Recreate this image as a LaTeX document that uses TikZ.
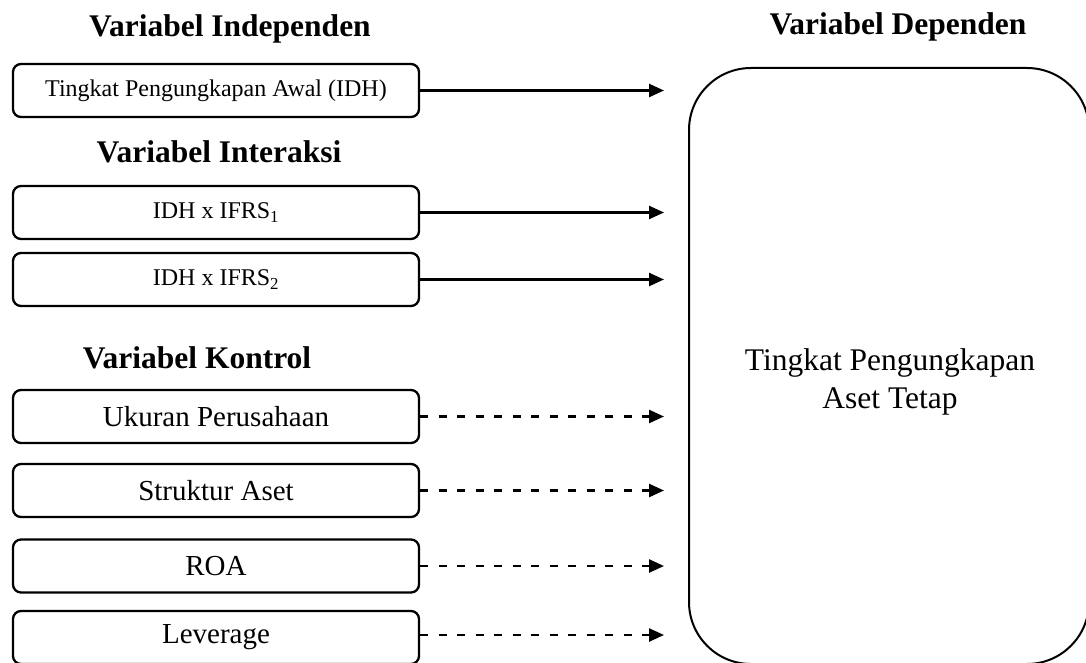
\documentclass[tikz,border=0pt]{standalone}
\usepackage{fontspec}
\setmainfont{Liberation Serif}
\usetikzlibrary{arrows.meta}
\begin{document}
\begin{tikzpicture}[x=1pt,y=-1pt,
  vbox/.style={draw, line width=2.3pt, rounded corners=8pt, minimum width=406pt,
    minimum height=53pt, inner sep=0pt},
  smalltxt/.style={font=\fontsize{24}{28}\selectfont},
  ctrltxt/.style={font=\fontsize{29}{33}\selectfont},
  head/.style={font=\fontsize{31.5}{36}\selectfont\bfseries, inner sep=0pt, anchor=base},
  solidarrow/.style={line width=2.5pt, -{Triangle[length=15pt,width=13pt]}},
  dasharrow/.style={line width=2.5pt, dash pattern=on 8pt off 10.5pt, -{Triangle[length=15pt,width=13pt]}},
  bigbox/.style={draw, line width=2pt, rounded corners=62pt, minimum width=400pt,
    minimum height=596pt, inner sep=0pt}]
\useasboundingbox (0,0) rectangle (1086,663);
\fill[white] (0,0) rectangle (1086,663);

% headings
\node[head] (hind) at (230,37) {Variabel Independen};
\node[head] (hint) at (219,163) {Variabel Interaksi};
\node[head] (hkon) at (197,368) {Variabel Kontrol};
\node[head] (hdep) at (898,35) {Variabel Dependen};

% left boxes
\node[vbox, smalltxt] (b1) at (216,90.5) {Tingkat Pengungkapan Awal (IDH)};
\node[vbox, smalltxt] (b2) at (216,212.5) {IDH x IFRS\textsubscript{1}};
\node[vbox, smalltxt] (b3) at (216,279.5) {IDH x IFRS\textsubscript{2}};
\node[vbox, ctrltxt] (c1) at (216,416.5) {Ukuran Perusahaan};
\node[vbox, ctrltxt] (c2) at (216,490.5) {Struktur Aset};
\node[vbox, ctrltxt] (c3) at (216,566) {ROA};
\node[vbox, ctrltxt] (c4) at (216,637.5) {Leverage};

% dependent box
\node[bigbox] (dep) at (889,366) {};
\node[font=\fontsize{31.5}{38}\selectfont, align=center, inner sep=0pt] (deptext) at (890,381.5)
  {Tingkat Pengungkapan\\Aset Tetap};

% arrow tip line
\coordinate (tip) at (664,0);

\draw[solidarrow] (b1.east) -- (b1.east -| tip);
\draw[solidarrow] (b2.east) -- (b2.east -| tip);
\draw[solidarrow] (b3.east) -- (b3.east -| tip);
\draw[dasharrow] (c1.east) -- (c1.east -| tip);
\draw[dasharrow] (c2.east) -- (c2.east -| tip);
\draw[dasharrow] (c3.east) -- (c3.east -| tip);
\draw[dasharrow] ([yshift=2.5pt]c4.east) -- ([yshift=2.5pt]c4.east -| tip);
\end{tikzpicture}
\end{document}
